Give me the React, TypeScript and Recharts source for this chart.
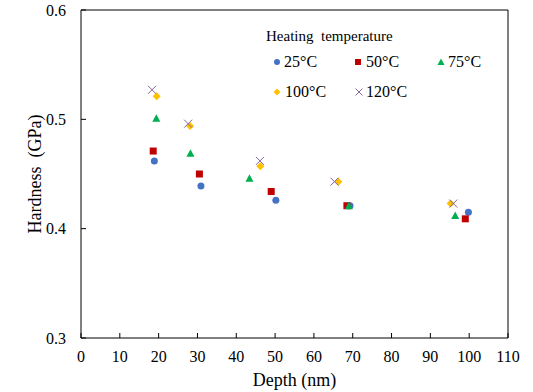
import React from 'react';
import { ScatterChart, Scatter, XAxis, YAxis, ReferenceLine, Label } from 'recharts';

const xTicks = [0, 10, 20, 30, 40, 50, 60, 70, 80, 90, 100, 110];
const yTicks = [0.3, 0.4, 0.5, 0.6];

const depth25 = [18.9, 30.9, 50.2, 69.3, 99.8];
const hard25 = [0.462, 0.439, 0.426, 0.421, 0.415];
const depth50 = [18.6, 30.5, 49.0, 68.5, 99.0];
const hard50 = [0.471, 0.45, 0.434, 0.421, 0.409];
const depth75 = [19.4, 28.2, 43.4, 69.0, 96.4];
const hard75 = [0.501, 0.469, 0.446, 0.421, 0.412];
const depth100 = [19.5, 28.1, 46.2, 66.3, 95.2];
const hard100 = [0.521, 0.494, 0.457, 0.443, 0.423];
const depth120 = [18.3, 27.6, 46.1, 65.3, 95.9];
const hard120 = [0.527, 0.496, 0.462, 0.443, 0.423];

const toPoints = (xs: number[], ys: number[]) => xs.map((x, i) => ({ x, y: ys[i] }));

const FONT = '"Liberation Serif", "Times New Roman", serif';

const BLUE = '#4472C4';
const RED = '#C00000';
const GREEN = '#00B050';
const GOLD = '#FFC000';
const PURPLE = '#8064A2';

type MarkerKind = 'circle' | 'square' | 'triangle' | 'diamond' | 'x';

function Marker({ kind, cx, cy, s, color }: { kind: MarkerKind; cx: number; cy: number; s: number; color: string }) {
  const h = s / 2;
  switch (kind) {
    case 'circle':
      return <circle cx={cx} cy={cy} r={h} fill={color} />;
    case 'square':
      return <rect x={cx - h} y={cy - h} width={s} height={s} fill={color} />;
    case 'triangle':
      return <polygon points={`${cx},${cy - h - 0.5} ${cx + h + 0.5},${cy + h} ${cx - h - 0.5},${cy + h}`} fill={color} />;
    case 'diamond':
      return <polygon points={`${cx},${cy - h - 0.5} ${cx + h + 0.5},${cy} ${cx},${cy + h + 0.5} ${cx - h - 0.5},${cy}`} fill={color} />;
    default:
      return (
        <g stroke={color} strokeWidth={1}>
          <line x1={cx - h} y1={cy - h} x2={cx + h} y2={cy + h} />
          <line x1={cx - h} y1={cy + h} x2={cx + h} y2={cy - h} />
        </g>
      );
  }
}

const shapeOf = (kind: MarkerKind, color: string, s: number) => (props: any) =>
  <Marker kind={kind} cx={props.cx} cy={props.cy} s={s} color={color} />;

const series = [
  { name: '25°C', data: toPoints(depth25, hard25), kind: 'circle' as MarkerKind, color: BLUE },
  { name: '50°C', data: toPoints(depth50, hard50), kind: 'square' as MarkerKind, color: RED },
  { name: '75°C', data: toPoints(depth75, hard75), kind: 'triangle' as MarkerKind, color: GREEN },
  { name: '100°C', data: toPoints(depth100, hard100), kind: 'diamond' as MarkerKind, color: GOLD },
  { name: '120°C', data: toPoints(depth120, hard120), kind: 'x' as MarkerKind, color: PURPLE },
];

// legend slots (marker centre x, text left x, row centre y)
const legendSlots = [
  { mx: 277, tx: 284, y: 62 },
  { mx: 358, tx: 366, y: 62 },
  { mx: 441, tx: 448, y: 62 },
  { mx: 277, tx: 285, y: 92 },
  { mx: 359, tx: 366, y: 92 },
];

function LegendBox() {
  return (
    <div style={{ position: 'absolute', left: 0, top: 0, width: 533, height: 392, pointerEvents: 'none', fontFamily: FONT }}>
      <div style={{ position: 'absolute', left: 266, top: 29, fontSize: 15, lineHeight: '15px', whiteSpace: 'pre', color: '#000' }}>
        {'Heating  temperature'}
      </div>
      {series.map((s, i) => {
        const slot = legendSlots[i];
        return (
          <React.Fragment key={s.name}>
            <svg style={{ position: 'absolute', left: slot.mx - 5, top: slot.y - 5 }} width={10} height={10}>
              <Marker kind={s.kind} cx={5} cy={5} s={s.kind === 'x' ? 7 : 6} color={s.color} />
            </svg>
            <div style={{ position: 'absolute', left: slot.tx, top: slot.y - 8, fontSize: 16, lineHeight: '16px', whiteSpace: 'pre', color: '#000' }}>
              {s.name}
            </div>
          </React.Fragment>
        );
      })}
    </div>
  );
}

export default function App() {
  const tickStyle = { fill: '#000', fontSize: 16 };
  return (
    <div style={{ position: 'absolute', left: 0, top: 0, width: 533, height: 392, background: '#fff', fontFamily: FONT }}>
      <style>{`.chart-root text, .chart-root tspan { font-family: "Liberation Serif", "Times New Roman", serif !important; }`}</style>
      <div className="chart-root">
        <ScatterChart width={533} height={392} margin={{ top: 10, right: 25, left: 0, bottom: 0 }}>
          <XAxis
            type="number"
            dataKey="x"
            domain={[0, 110]}
            ticks={xTicks}
            interval={0}
            height={54}
            stroke="#000"
            tick={tickStyle}
            tickSize={-5}
            tickMargin={18}
          >
            <Label
              content={() => (
                <text x={294.5} y={386} textAnchor="middle" fontSize={18} fill="#000">
                  Depth (nm)
                </text>
              )}
            />
          </XAxis>
          <YAxis
            type="number"
            dataKey="y"
            domain={[0.3, 0.6]}
            ticks={yTicks}
            interval={0}
            width={81}
            stroke="#000"
            tick={tickStyle}
            tickSize={-5}
            tickMargin={20}
            tickFormatter={(v: number) => v.toFixed(1)}
          >
            <Label
              content={() => (
                <text
                  x={41}
                  y={174}
                  transform="rotate(-90 41 174)"
                  textAnchor="middle"
                  fontSize={18}
                  fill="#000"
                  style={{ whiteSpace: 'pre' }}
                >
                  {'Hardness  (GPa)'}
                </text>
              )}
            />
          </YAxis>
          <ReferenceLine y={0.6} stroke="#000" strokeWidth={1} />
          <ReferenceLine x={110} stroke="#000" strokeWidth={1} />
          {series.map((s) => (
            <Scatter
              key={s.name}
              name={s.name}
              data={s.data}
              fill={s.color}
              isAnimationActive={false}
              shape={shapeOf(s.kind, s.color, s.kind === 'x' ? 8 : 7)}
            />
          ))}
        </ScatterChart>
      </div>
      <LegendBox />
    </div>
  );
}
